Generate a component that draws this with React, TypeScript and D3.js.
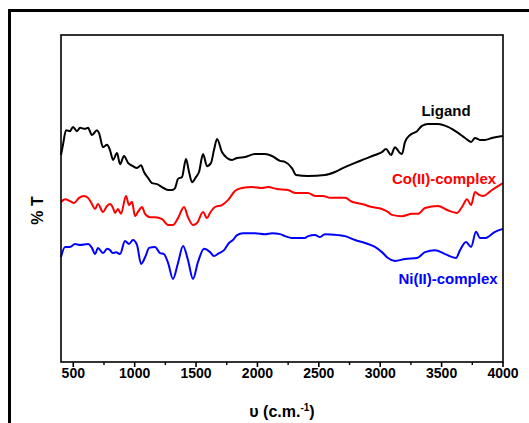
import React from "react";
import * as d3 from "d3";

// IR spectra, wavenumber (cm-1) vs %T (arbitrary offsets)
const ligandWave = [400, 416, 441, 473, 498, 530, 555, 595, 620, 652, 693, 710, 742, 775, 799, 824, 856, 881, 913, 946, 986, 1019, 1052, 1076, 1109, 1141, 1182, 1223, 1272, 1304, 1329, 1353, 1386, 1418, 1443, 1467, 1500, 1524, 1557, 1589, 1622, 1646, 1671, 1711, 1752, 1793, 1834, 1899, 1980, 2062, 2119, 2184, 2224, 2281, 2314, 2412, 2550, 2632, 2713, 2795, 2876, 2957, 3014, 3047, 3088, 3120, 3161, 3177, 3202, 3243, 3300, 3340, 3389, 3471, 3552, 3625, 3691, 3740, 3772, 3813, 3853, 3910, 4000];
const ligandT = [63.3, 66.4, 70.9, 70.6, 71.9, 70.6, 71.6, 71.3, 71.6, 69.4, 70.9, 70.0, 65.7, 66.4, 64.8, 61.8, 63.9, 60.5, 63.0, 60.9, 59.9, 59.3, 60.2, 58.1, 56.3, 54.7, 54.4, 53.5, 52.6, 52.6, 53.2, 56.0, 56.6, 62.1, 58.1, 55.0, 56.6, 58.1, 63.6, 59.9, 60.9, 64.8, 68.2, 64.2, 62.4, 61.8, 62.4, 62.7, 63.6, 63.6, 63.0, 61.5, 61.2, 59.3, 57.2, 56.9, 57.2, 58.1, 59.6, 60.9, 62.1, 63.3, 64.2, 65.1, 63.3, 65.7, 63.9, 63.6, 67.3, 69.4, 70.6, 72.2, 72.8, 72.8, 71.9, 70.3, 68.5, 67.3, 68.5, 67.9, 67.9, 68.5, 69.1];

const coWave = [400, 433, 473, 506, 547, 587, 620, 652, 677, 701, 742, 775, 799, 824, 840, 864, 889, 929, 954, 978, 1003, 1027, 1060, 1084, 1125, 1166, 1223, 1272, 1312, 1353, 1402, 1434, 1475, 1508, 1557, 1589, 1614, 1654, 1711, 1760, 1817, 1874, 1956, 2037, 2086, 2159, 2249, 2306, 2412, 2469, 2534, 2591, 2713, 2770, 2852, 2933, 3014, 3063, 3096, 3177, 3259, 3308, 3365, 3471, 3544, 3625, 3666, 3707, 3740, 3772, 3805, 3837, 3910, 4000];
const coT = [48.9, 49.8, 49.2, 48.6, 50.2, 50.8, 50.2, 48.3, 46.8, 48.3, 45.9, 47.7, 48.3, 47.1, 45.6, 46.8, 45.3, 50.8, 48.0, 49.0, 44.6, 45.9, 47.4, 45.3, 44.3, 44.3, 43.7, 41.9, 41.9, 44.0, 47.4, 44.3, 41.9, 42.5, 45.9, 44.0, 45.6, 47.4, 48.0, 49.5, 52.3, 53.2, 53.5, 53.2, 53.5, 52.9, 52.6, 51.7, 51.7, 50.8, 50.8, 50.2, 50.2, 49.0, 48.3, 47.4, 46.8, 45.9, 45.0, 44.6, 45.3, 45.3, 47.1, 47.7, 46.5, 45.6, 47.4, 49.8, 48.0, 52.0, 51.1, 50.8, 52.6, 54.7];

const niWave = [400, 433, 473, 514, 555, 620, 652, 677, 701, 742, 775, 799, 824, 848, 881, 921, 954, 986, 1019, 1052, 1092, 1117, 1166, 1206, 1239, 1272, 1312, 1353, 1394, 1434, 1475, 1516, 1565, 1614, 1646, 1687, 1728, 1768, 1801, 1834, 1882, 1980, 2062, 2119, 2184, 2224, 2281, 2387, 2412, 2469, 2510, 2550, 2656, 2713, 2795, 2876, 2957, 3014, 3063, 3120, 3202, 3300, 3365, 3446, 3528, 3617, 3650, 3699, 3740, 3780, 3813, 3853, 3935, 4000];
const niT = [32.1, 35.2, 35.2, 36.1, 35.8, 36.1, 34.9, 33.0, 34.9, 33.3, 34.6, 34.2, 33.3, 33.6, 33.0, 37.0, 36.1, 37.3, 35.8, 30.0, 32.7, 34.9, 35.2, 33.3, 33.0, 30.3, 25.4, 30.3, 35.5, 31.2, 25.4, 30.6, 34.6, 33.6, 32.4, 33.3, 34.2, 36.4, 37.3, 38.8, 39.4, 39.4, 39.1, 39.4, 39.1, 38.5, 37.9, 37.9, 38.5, 38.8, 38.2, 39.1, 38.8, 38.5, 37.3, 36.4, 35.2, 33.6, 31.8, 30.9, 31.5, 31.8, 33.6, 34.2, 33.0, 31.8, 34.2, 36.7, 35.2, 39.8, 37.9, 37.9, 39.8, 40.7];

const majorTicks = [500, 1000, 1500, 2000, 2500, 3000, 3500, 4000];
const minorTicks = [750, 1250, 1750, 2250, 2750, 3250, 3750];

const series = [
  { name: "Ligand", wave: ligandWave, t: ligandT, color: "#000000", lx: 446, ly: 116 },
  { name: "Co(II)-complex", wave: coWave, t: coT, color: "#ff0000", lx: 444, ly: 184 },
  { name: "Ni(II)-complex", wave: niWave, t: niT, color: "#0000ff", lx: 448, ly: 284 },
];

const W = 529;
const H = 423;
const left = 61;
const right = 503;
const top = 35;
const bottom = 362;
const font = "'Liberation Sans', Arial, sans-serif";

export default function App() {
  const x = d3.scaleLinear().domain([400, 4000]).range([left, right]);
  const y = d3.scaleLinear().domain([0, 100]).range([bottom, top]);

  const line = d3
    .line<[number, number]>()
    .x((d) => x(d[0]))
    .y((d) => y(d[1]))
    .curve(d3.curveMonotoneX);

  return (
    <svg
      width={W}
      height={H}
      style={{ position: "absolute", left: 0, top: 0, background: "#fff" }}
    >
      <rect x={9.5} y={10.5} width={560} height={460} fill="none" stroke="#000" strokeWidth={3} />

      {series.map((s) => (
        <path
          key={s.name}
          d={line(s.wave.map((w, i) => [w, s.t[i]] as [number, number])) || ""}
          fill="none"
          stroke={s.color}
          strokeWidth={2}
          strokeLinejoin="round"
        />
      ))}

      <rect x={left} y={top} width={right - left} height={bottom - top} fill="none" stroke="#000" strokeWidth={1.6} />

      {majorTicks.map((t) => (
        <g key={t}>
          <line x1={x(t)} x2={x(t)} y1={bottom} y2={bottom + 5} stroke="#000" strokeWidth={1.6} />
          <text
            x={x(t)}
            y={bottom + 16}
            textAnchor="middle"
            fontFamily={font}
            fontWeight="bold"
            fontSize={14}
          >
            {t}
          </text>
        </g>
      ))}
      {minorTicks.map((t) => (
        <line key={t} x1={x(t)} x2={x(t)} y1={bottom} y2={bottom + 3} stroke="#000" strokeWidth={1.4} />
      ))}

      {series.map((s) => (
        <text
          key={s.name + "-label"}
          x={s.lx}
          y={s.ly}
          textAnchor="middle"
          fill={s.color}
          fontFamily={font}
          fontWeight="bold"
          fontSize={15}
        >
          {s.name}
        </text>
      ))}

      <text
        transform={`translate(43, ${(top + bottom) / 2 + 12}) rotate(-90)`}
        textAnchor="middle"
        fontFamily={font}
        fontWeight="bold"
        fontSize={16}
      >
        % T
      </text>

      <text x={(left + right) / 2} y={417} textAnchor="middle" fontFamily={font} fontWeight="bold" fontSize={16}>
        υ (c.m.
        <tspan dy={-6} fontSize={10}>-1</tspan>
        <tspan dy={6}>)</tspan>
      </text>
    </svg>
  );
}
